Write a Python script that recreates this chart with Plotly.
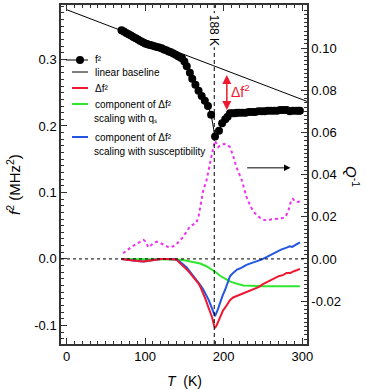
import plotly.graph_objects as go

# f^2 data (MHz^2)
t_f2 = [70, 73, 76, 79, 82, 85, 88, 91, 94, 97, 100, 103, 106, 109, 112, 115, 118, 121,
        124, 127, 130, 133, 136, 139, 142, 145, 147, 150, 153, 157, 160, 164, 168, 172,
        176, 180, 184, 189, 194, 198, 202, 205, 208, 211, 214, 217, 220, 224, 228, 232,
        236, 240, 244, 248, 252, 256, 260, 264, 268, 272, 276, 280, 284, 288, 292, 295, 297]
f2 = [0.344, 0.342, 0.340, 0.338, 0.336, 0.334, 0.332, 0.330, 0.328, 0.326, 0.324, 0.323,
      0.322, 0.321, 0.320, 0.319, 0.318, 0.317, 0.315, 0.314, 0.312, 0.311, 0.309, 0.307,
      0.305, 0.303, 0.302, 0.297, 0.290, 0.280, 0.271, 0.262, 0.253, 0.245, 0.238, 0.230,
      0.217, 0.184, 0.193, 0.204, 0.210, 0.214, 0.219, 0.219, 0.219, 0.220, 0.220, 0.220,
      0.220, 0.221, 0.221, 0.221, 0.222, 0.222, 0.222, 0.223, 0.223, 0.223, 0.223, 0.224,
      0.224, 0.224, 0.222, 0.223, 0.223, 0.223, 0.223]

# linear baseline
t_base = [0, 306]
f2_base = [0.375, 0.237]

# delta f^2
t_df2 = [70, 80, 90, 98, 105, 112, 120, 128, 136, 140, 144, 148, 153, 157, 161, 164, 168,
         171, 174, 177, 180, 183, 185, 188, 189, 191, 195, 199, 202, 205, 208, 212, 218,
         225, 232, 238, 245, 250, 257, 263, 270, 276, 280, 285, 288, 293, 297]
df2 = [0.000, -0.001, -0.003, -0.004, -0.003, -0.001, 0.000, 0.000, 0.000, -0.001, -0.006,
       -0.010, -0.016, -0.021, -0.027, -0.032, -0.037, -0.044, -0.052, -0.061, -0.071,
       -0.080, -0.087, -0.101, -0.104, -0.100, -0.088, -0.078, -0.073, -0.067, -0.062,
       -0.058, -0.055, -0.052, -0.049, -0.046, -0.042, -0.038, -0.034, -0.030, -0.026,
       -0.024, -0.021, -0.021, -0.019, -0.017, -0.015]

# component scaling with q_s
t_qs = [70, 100, 130, 140, 150, 160, 170, 178, 185, 190, 195, 200, 205, 210, 215, 220,
        225, 235, 250, 297]
df2_qs = [0.000, 0.000, 0.000, -0.001, -0.002, -0.004, -0.007, -0.011, -0.016, -0.020,
          -0.025, -0.029, -0.032, -0.035, -0.037, -0.039, -0.040, -0.0405, -0.041, -0.041]

# component scaling with susceptibility
t_chi = [70, 80, 90, 98, 105, 112, 120, 128, 136, 140, 144, 148, 153, 157, 161, 166, 170,
         174, 178, 181, 184, 187, 189, 192, 195, 198, 202, 205, 208, 212, 217, 223, 229,
         236, 242, 248, 255, 260, 267, 273, 280, 284, 287, 291, 295, 297]
df2_chi = [0.000, -0.001, -0.003, -0.004, -0.003, -0.001, 0.000, 0.000, 0.000, -0.001,
           -0.004, -0.008, -0.013, -0.019, -0.025, -0.032, -0.039, -0.046, -0.055, -0.062,
           -0.071, -0.081, -0.086, -0.078, -0.067, -0.057, -0.046, -0.036, -0.026, -0.021,
           -0.016, -0.013, -0.009, -0.006, -0.004, -0.001, 0.003, 0.006, 0.011, 0.014,
           0.017, 0.019, 0.018, 0.021, 0.023, 0.025]

# Q^-1 (right axis)
t_q = [72, 77, 83, 88, 93, 98, 101, 104, 108, 112, 115, 120, 125, 130, 136, 141, 147, 152,
       157, 161, 165, 168, 170, 174, 178, 180, 183, 187, 189, 191, 193, 196, 200, 204, 208,
       212, 216, 223, 229, 234, 238, 243, 247, 251, 255, 261, 266, 272, 278, 282, 286, 288,
       291, 295, 297]
q_inv = [0.0027, 0.0042, 0.0058, 0.0070, 0.0082, 0.0090, 0.0082, 0.0055, 0.0066, 0.0078,
         0.0082, 0.0075, 0.0066, 0.0055, 0.0060, 0.0075, 0.0098, 0.0125, 0.0153, 0.0163,
         0.0170, 0.0200, 0.0248, 0.0327, 0.0370, 0.0406, 0.0470, 0.0532, 0.0560, 0.0545,
         0.0530, 0.0540, 0.0545, 0.0543, 0.0530, 0.0490, 0.0437, 0.0374, 0.0295, 0.0250,
         0.0224, 0.0205, 0.0193, 0.0186, 0.0182, 0.0188, 0.0189, 0.0191, 0.0198, 0.0224,
         0.0280, 0.0285, 0.0272, 0.0270, 0.0275]

# tick labels
y1_ticks = [-0.1, 0.0, 0.1, 0.2, 0.3]
y1_labels = ["-0.1", "0.0", "0.1", "0.2", "0.3"]
y2_ticks = [-0.02, 0.0, 0.02, 0.04, 0.06, 0.08, 0.10, 0.12]
y2_labels = ["-0.02", "0.00", "0.02", "0.04", "0.06", "0.08", "0.10", "0.12"]

RED = "#ee1830"
GREEN = "#2ee62e"
BLUE = "#2255e0"
PINK = "#ee33ee"
FONT = "Liberation Sans"

# plot area in pixels: left 61, right 307, top 5, bottom 344
def px(x):
    return (x - 61) / 246.0

def py(y):
    return (344 - y) / 339.0

fig = go.Figure()

fig.add_trace(go.Scatter(x=t_base, y=f2_base, mode="lines",
                         line=dict(color="black", width=1)))
fig.add_trace(go.Scatter(x=t_q, y=q_inv, mode="lines", yaxis="y2",
                         line=dict(color=PINK, width=2, dash="dot")))
fig.add_trace(go.Scatter(x=t_qs, y=df2_qs, mode="lines",
                         line=dict(color=GREEN, width=2)))
fig.add_trace(go.Scatter(x=t_chi, y=df2_chi, mode="lines",
                         line=dict(color=BLUE, width=2)))
fig.add_trace(go.Scatter(x=t_df2, y=df2, mode="lines",
                         line=dict(color=RED, width=2)))
fig.add_trace(go.Scatter(x=t_f2, y=f2, mode="lines+markers",
                         line=dict(color="black", width=1),
                         marker=dict(color="black", size=8)))

# dashed transition line and dotted zero line
fig.add_shape(type="line", x0=188, x1=188, y0=0, y1=1, yref="paper",
              line=dict(color="black", width=1, dash="4px,3px"))
fig.add_shape(type="line", x0=0, x1=1, xref="paper", y0=0, y1=0,
              line=dict(color="black", width=1, dash="dot"))

# hand-made legend (symbol line + text), top left
# unicode super/subscripts keep every text box the same height
legend_items = [
    (60, "black", 1, "f²"),
    (72, "black", 1, "linear baseline"),
    (88, RED, 2, "Δf²"),
    (104, GREEN, 2, "component of Δf²"),
    (137, BLUE, 2, "component of Δf²"),
]
for yy, col, w, txt in legend_items:
    x0 = 66 if yy == 60 else 72
    fig.add_shape(type="line", xref="paper", yref="paper", x0=px(x0), x1=px(88),
                  y0=py(yy), y1=py(yy), line=dict(color=col, width=w))
    fig.add_annotation(x=px(93), y=py(yy), xref="paper", yref="paper", text=txt,
                       xanchor="left", yanchor="middle", showarrow=False,
                       font=dict(size=10, color="black"))
fig.add_shape(type="circle", xref="paper", yref="paper", x0=px(76), x1=px(84),
              y0=py(64), y1=py(56), fillcolor="black", line=dict(color="black", width=0))
fig.add_annotation(x=px(92), y=py(119), xref="paper", yref="paper",
                   text="scaling with qₛ", xanchor="left", yanchor="middle",
                   showarrow=False, font=dict(size=10, color="black"))
fig.add_annotation(x=px(92), y=py(151), xref="paper", yref="paper",
                   text="scaling with susceptibility", xanchor="left", yanchor="middle",
                   showarrow=False, font=dict(size=10, color="black"))

# annotations
fig.add_annotation(x=188, y=py(30), yref="paper", text="188 K", textangle=90,
                   xanchor="center", yanchor="middle",
                   showarrow=False, bgcolor="white", font=dict(size=12, color="black"))
fig.add_annotation(x=204, y=0.224, ax=204, ay=0.279, axref="x", ayref="y",
                   text="", showarrow=True, arrowside="end+start", arrowhead=2,
                   arrowsize=1.2, arrowwidth=1.5, arrowcolor=RED)
fig.add_annotation(x=222, y=0.252, text="Δf<sup>2</sup>", showarrow=False,
                   xanchor="center", yanchor="middle", font=dict(size=14, color=RED))
fig.add_annotation(x=285, y=0.137, ax=228, ay=0.137, axref="x", ayref="y",
                   text="", showarrow=True, arrowhead=2, arrowsize=1.3,
                   arrowwidth=1, arrowcolor="black")

# axis titles
fig.add_annotation(x=px(353), y=py(176), xref="paper", yref="paper",
                   text="<i>Q</i><sup>-1</sup>", showarrow=False, textangle=90,
                   xanchor="center", yanchor="middle", font=dict(size=15, color="black"))
fig.add_annotation(x=px(14), y=py(185), xref="paper", yref="paper",
                   text="<i>f</i><sup>2</sup> (MHz<sup>2</sup>)", showarrow=False,
                   textangle=-90, xanchor="center", yanchor="middle",
                   font=dict(size=15, color="black"))
fig.add_annotation(x=px(184), y=py(381), xref="paper", yref="paper",
                   text="<i>T</i>  (K)", showarrow=False, xanchor="center",
                   yanchor="middle", font=dict(size=14, color="black"))

axis_common = dict(showline=True, linecolor="#333333", linewidth=1.5, ticks="inside",
                   ticklen=6, tickwidth=1, tickcolor="#333333", showgrid=False,
                   zeroline=False, automargin=False, tickfont=dict(size=13, color="black"))

fig.update_layout(
    width=367,
    height=390,
    margin=dict(l=61, r=60, t=5, b=46),
    paper_bgcolor="white",
    plot_bgcolor="white",
    font=dict(family=FONT, color="black"),
    showlegend=False,
    xaxis=dict(range=[-7, 306], dtick=100, tick0=0, mirror="ticks",
               minor=dict(dtick=10, ticks="inside", ticklen=3, tickcolor="#333333"),
               **axis_common),
    yaxis=dict(range=[-0.128, 0.382], tickvals=y1_ticks, ticktext=y1_labels,
               minor=dict(dtick=0.01, tick0=0, ticks="inside", ticklen=3, tickcolor="#333333"),
               **axis_common),
    yaxis2=dict(range=[-0.0403, 0.1204], tickvals=y2_ticks, ticktext=y2_labels,
                overlaying="y", side="right",
                minor=dict(dtick=0.002, tick0=0, ticks="inside", ticklen=3, tickcolor="#333333"),
                **axis_common),
)

# the page body has a default 8px margin; remove it so the figure sits at the corner
fig.write_html("out.html", config={"displayModeBar": False},
               post_script="document.body.style.margin='0px';")
